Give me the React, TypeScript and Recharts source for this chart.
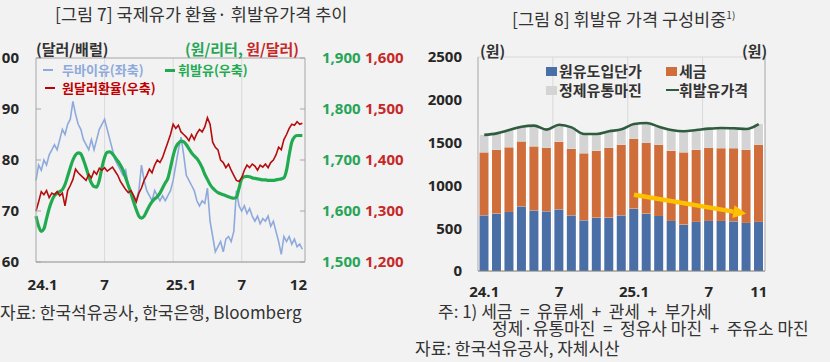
import React from 'react';
import {
  LineChart, Line, XAxis, YAxis, CartesianGrid, Legend, ComposedChart, Bar, ReferenceLine,
} from 'recharts';

const FONT = "'Open Sans', 'Noto Sans CJK KR', sans-serif";
const KFONT = "'Noto Sans CJK KR', 'Open Sans', sans-serif";
const BG = '#f2f2f2';

// ---------- Figure 7: weekly series, Jan 2024 - early Dec 2025 ----------
const dubai = [
  76, 79, 78, 80, 79, 81, 82, 83, 82, 84,
  86, 85, 87, 88, 91.5, 89, 87, 86, 84, 83,
  82, 84, 82, 84, 86, 87, 88, 86, 84, 82,
  80, 79, 78, 77, 78, 75, 74, 73, 72, 74,
  79, 76, 74, 73, 72, 74, 73, 72, 73, 72,
  73, 74, 76, 79, 82, 84.5, 81, 77, 76, 75,
  74, 72, 71, 72, 71.5, 74.5, 68, 65, 62, 63,
  64, 62, 64.5, 65, 64, 66, 74, 71, 70, 71,
  69.5, 70.5, 69, 68, 69, 67.5, 68.5, 68, 69, 67,
  68, 66, 64, 61.5, 65, 64, 65, 63.5, 64.5, 63,
  63.5, 62.5,
];
const usdKrw = [
  1300, 1318, 1338, 1332, 1340, 1326, 1335, 1332, 1338, 1330,
  1335, 1310, 1340, 1350, 1362, 1382, 1375, 1370, 1365, 1360,
  1372, 1365, 1378, 1372, 1384, 1380, 1385, 1378, 1382, 1386,
  1378, 1370, 1358, 1350, 1342, 1336, 1340, 1330, 1318, 1335,
  1345, 1360, 1370, 1382, 1375, 1390, 1400, 1395, 1405, 1420,
  1435, 1450, 1470, 1462, 1468, 1455, 1450, 1445, 1438, 1450,
  1440, 1452, 1460, 1455, 1465, 1483, 1470, 1435, 1425, 1420,
  1400, 1395, 1385, 1392, 1380, 1370, 1360, 1358, 1365, 1380,
  1390, 1385, 1392, 1388, 1380, 1390, 1386, 1392, 1385, 1395,
  1400, 1410, 1425, 1420, 1440, 1450, 1462, 1470, 1468, 1475,
  1470, 1472,
];
const gasolineWeekly = [
  1590, 1570, 1560, 1565, 1585, 1605, 1620, 1630, 1635, 1638,
  1642, 1652, 1668, 1685, 1700, 1710, 1714, 1712, 1700, 1685,
  1668, 1655, 1648, 1647, 1660, 1685, 1705, 1715, 1716, 1712,
  1705, 1698, 1690, 1680, 1665, 1650, 1635, 1618, 1603, 1590,
  1586, 1590, 1600, 1610, 1618, 1624, 1628, 1635, 1645, 1655,
  1664, 1685, 1708, 1725, 1733, 1737, 1736, 1730, 1722, 1714,
  1708, 1703, 1695, 1685, 1672, 1662, 1652, 1645, 1640, 1636,
  1634, 1632, 1630, 1628, 1626, 1625, 1627, 1645, 1663, 1667,
  1668, 1667, 1665, 1664, 1663, 1662, 1661, 1661, 1660, 1660,
  1660, 1661, 1662, 1663, 1665, 1680, 1710, 1735, 1745, 1748,
  1748, 1748,
];
const fig7TickWeeks = [2.5, 26, 55, 78, 99.5];
const fig7TickLabels = ['24.1', '7', '25.1', '7', '12'];
const fig7GridWeeks = [26, 52, 78];
const fig7SeriesNames = ['두바이유(좌축)', '휘발유(우축)', '원달러환율(우축)'];
const dubaiTicks = [60, 70, 80, 90, 100];
const gasTicks = [1500, 1600, 1700, 1800, 1900];
const fxTicks = [1200, 1300, 1400, 1500, 1600];

const fig7Data = dubai.map((v, i) => ({ week: i, dubai: v, fx: usdKrw[i], gas: gasolineWeekly[i] }));

// ---------- Figure 8: monthly, 24.1 - 25.11 ----------
const months = [
  '24.1', '24.2', '24.3', '24.4', '24.5', '24.6', '24.7', '24.8', '24.9', '24.10', '24.11', '24.12',
  '25.1', '25.2', '25.3', '25.4', '25.5', '25.6', '25.7', '25.8', '25.9', '25.10', '25.11',
];
const crudeCost = [651, 671, 690, 756, 709, 698, 721, 651, 593, 624, 624, 651, 729, 671, 643, 585, 543, 574, 585, 585, 581, 562, 574];
const taxes = [736, 744, 756, 759, 748, 740, 791, 776, 783, 783, 814, 822, 814, 825, 830, 822, 844, 845, 853, 850, 854, 857, 899];
const margins = [203, 193, 201, 171, 241, 213, 197, 251, 225, 194, 194, 182, 174, 233, 213, 240, 245, 228, 225, 236, 232, 240, 244];
const gasolinePrice = [1590, 1608, 1647, 1686, 1698, 1651, 1709, 1678, 1601, 1601, 1632, 1655, 1717, 1729, 1686, 1647, 1632, 1647, 1663, 1671, 1667, 1659, 1717];
const fig8TickMonths = ['24.1', '24.7', '25.1', '25.7', '25.11'];
const fig8TickLabels = ['24.1', '7', '25.1', '7', '11'];
const fig8SeriesNames = ['원유도입단가', '세금', '정제유통마진', '휘발유가격'];
const wonTicks = [0, 500, 1000, 1500, 2000, 2500];
const arrowFrom = { x: '25.1', y: 890 };
const arrowTo = { x: '25.10', y: 668 };

const fig8Data = months.map((m, i) => ({
  m, crude: crudeCost[i], tax: taxes[i], margin: margins[i], price: gasolinePrice[i],
}));

// ---------- colors ----------
const C = {
  dubai: '#8eaadc',
  fx: '#b50d0d',
  gas: '#22aa50',
  gasText: '#27a556',
  fxText: '#c62828',
  crude: '#4a6ea6',
  tax: '#cf6e3b',
  margin: '#d4d4d4',
  price: '#2f5c3f',
  arrow: '#ffc000',
  frame: '#a6a6a6',
  grid: '#d9d9d9',
  text: '#262626',
};

const tickStyle = { fontSize: 15, fontWeight: 700, fill: C.text, fontFamily: FONT };

const Txt = ({ x, y, size = 17, color = '#333', weight = 400, children }: any) => (
  <div style={{
    position: 'absolute', left: x, top: y - size / 2, fontSize: size, lineHeight: `${size}px`,
    color, fontWeight: weight, whiteSpace: 'pre', fontFamily: KFONT,
  }}>{children}</div>
);

const Fig7Legend = () => {
  const item = (x: number, y: number, color: string, thick: number, label: string, tx: number) => (
    <React.Fragment key={label}>
      <div style={{ position: 'absolute', left: x, top: y - thick / 2, width: 10, height: thick, background: color }} />
      <div style={{
        position: 'absolute', left: tx, top: y - 8, lineHeight: '16px', fontSize: 13, fontWeight: 700,
        color, whiteSpace: 'pre', fontFamily: KFONT,
      }}>{label}</div>
    </React.Fragment>
  );
  return (
    <div style={{ position: 'relative', width: 414, height: 300 }}>
      {item(43, 70, C.dubai, 2, fig7SeriesNames[0], 62)}
      {item(165, 70, C.gas, 3, fig7SeriesNames[1], 178)}
      {item(45, 88, '#c00000', 2, fig7SeriesNames[2], 62)}
    </div>
  );
};

const Fig8Legend = () => {
  const box = (x: number, y: number, color: string, label: string, line = false) => (
    <React.Fragment key={label}>
      <div style={{
        position: 'absolute', left: x, top: line ? y - 1 : y - 4.5, width: line ? 13 : 11,
        height: line ? 2 : 9, background: color,
      }} />
      <div style={{
        position: 'absolute', left: x + 13, top: y - 9, lineHeight: '18px', fontSize: 15, fontWeight: 700,
        color: '#333', whiteSpace: 'pre', fontFamily: KFONT,
      }}>{label}</div>
    </React.Fragment>
  );
  return (
    <div style={{ position: 'relative', width: 400, height: 310 }}>
      {box(131, 71, C.crude, fig8SeriesNames[0])}
      {box(251, 71, C.tax, fig8SeriesNames[1])}
      {box(131, 90, C.margin, fig8SeriesNames[2])}
      {box(251, 90, C.price, fig8SeriesNames[3], true)}
    </div>
  );
};

const GapBar = (p: any) => {
  const { x, y, width, height, fill } = p;
  if (!height || height <= 0) return <g />;
  return (
    <g>
      <rect x={x - 1.5} y={y} width={width + 3} height={height} fill="#ffffff" />
      <rect x={x} y={y} width={width} height={height} fill={fill} />
    </g>
  );
};

const Arrow = (p: any) => {
  const { x1, y1, x2, y2 } = p;
  if ([x1, y1, x2, y2].some((v) => typeof v !== 'number' || isNaN(v))) return <g />;
  const ang = Math.atan2(y2 - y1, x2 - x1);
  const L = 13;
  const W = 6.5;
  const bx = x2 - L * Math.cos(ang);
  const by = y2 - L * Math.sin(ang);
  const px = -Math.sin(ang) * W;
  const py = Math.cos(ang) * W;
  return (
    <g>
      <line x1={x1} y1={y1} x2={bx} y2={by} stroke={C.arrow} strokeWidth={4.5} />
      <polygon points={`${x2},${y2} ${bx + px},${by + py} ${bx - px},${by - py}`} fill={C.arrow} />
    </g>
  );
};

const fmtComma = (v: number) => v.toLocaleString('en-US');

export default function App() {
  return (
    <div style={{
      position: 'absolute', left: 0, top: 0, width: 830, height: 362, background: BG,
      overflow: 'hidden', fontFamily: FONT,
    }}>
      {/* Titles */}
      <Txt x={55} y={14} size={17.5} color="#333">[그림 7] 국제유가 환율· 휘발유가격 추이</Txt>
      <Txt x={512} y={15} size={17.5} color="#333">[그림 8] 휘발유 가격 구성비중<sup style={{ fontSize: 10 }}>1)</sup></Txt>

      {/* Figure 7 */}
      <div style={{ position: 'absolute', left: 0, top: 0 }}>
        <LineChart width={414} height={300} data={fig7Data} margin={{ top: 58, right: 0, bottom: 8, left: 0 }}>
          <XAxis
            dataKey="week" type="number" domain={[0, 102]} ticks={fig7TickWeeks}
            tickFormatter={(v: number) => fig7TickLabels[fig7TickWeeks.indexOf(v)] ?? ''}
            height={30} tickLine={false} tickSize={0} tickMargin={17}
            axisLine={{ stroke: '#8c8c8c' }} tick={tickStyle} interval={0}
          />
          <YAxis
            yAxisId="y0" orientation="left" domain={[60, 100]} ticks={dubaiTicks} width={36}
            tickSize={-5} tickMargin={22} tickLine={{ stroke: C.frame }} axisLine={{ stroke: C.frame }}
            tick={tickStyle} interval={0}
          />
          <YAxis
            yAxisId="y1" orientation="right" domain={[1500, 1900]} ticks={gasTicks} width={59}
            tickSize={-5} tickMargin={22} tickLine={{ stroke: C.frame }} axisLine={{ stroke: C.frame }}
            tick={{ ...tickStyle, fill: C.gasText }} tickFormatter={fmtComma} interval={0}
          />
          <YAxis
            yAxisId="y2" orientation="right" domain={[1200, 1600]} ticks={fxTicks} width={50}
            tickSize={0} tickMargin={1} tickLine={false} axisLine={false}
            tick={{ ...tickStyle, fill: C.fxText }} tickFormatter={fmtComma} interval={0}
          />
          {fig7GridWeeks.map((w) => (
            <ReferenceLine key={w} x={w} yAxisId="y0" stroke={C.grid} strokeWidth={1} />
          ))}
          <ReferenceLine y={100} yAxisId="y0" stroke={C.frame} strokeWidth={1} />
          <Line yAxisId="y0" dataKey="dubai" stroke={C.dubai} strokeWidth={1.6} dot={false}
            isAnimationActive={false} type="linear" />
          <Line yAxisId="y1" dataKey="gas" stroke={C.gas} strokeWidth={3.2} dot={false}
            isAnimationActive={false} type="monotone" />
          <Line yAxisId="y2" dataKey="fx" stroke={C.fx} strokeWidth={1.6} dot={false}
            isAnimationActive={false} type="linear" />
          <Legend layout="horizontal" verticalAlign="middle" align="center"
            wrapperStyle={{ left: 0, top: 0, width: 414, height: 300, pointerEvents: 'none' }}
            content={() => <Fig7Legend />} />
        </LineChart>
      </div>

      <Txt x={36} y={48} size={15} weight={700} color="#333">(달러/배럴)</Txt>
      <Txt x={185} y={48} size={15} weight={700} color={C.gasText}>(원/리터, <span style={{ color: C.fxText }}>원/달러)</span></Txt>
      <Txt x={0} y={311} color="#333">자료: 한국석유공사, 한국은행, Bloomberg</Txt>

      {/* Figure 8 */}
      <div style={{ position: 'absolute', left: 415, top: 0 }}>
        <ComposedChart width={400} height={310} data={fig8Data} margin={{ top: 57, right: 0, bottom: 9, left: 0 }}
          barCategoryGap={1.5}>
          <CartesianGrid stroke={C.grid} strokeWidth={1}
            verticalCoordinatesGenerator={({ offset }: any) => [6, 12, 18].map((k) => offset.left + (offset.width * k) / months.length)} />
          <XAxis dataKey="m" ticks={fig8TickMonths} interval={0}
            tickFormatter={(v: string) => fig8TickLabels[fig8TickMonths.indexOf(v)] ?? ''}
            height={30} tickLine={false} tickSize={0} tickMargin={15}
            axisLine={{ stroke: '#7f7f7f' }} tick={tickStyle} />
          <YAxis yAxisId="l" orientation="left" domain={[0, 2500]} ticks={wonTicks} width={63}
            tickSize={0} tickMargin={16} tickLine={false} axisLine={{ stroke: C.frame }} tick={tickStyle} interval={0} />
          <YAxis yAxisId="r" orientation="right" domain={[0, 2500]} ticks={wonTicks} width={50}
            tickSize={0} tickMargin={13} tickLine={false} axisLine={{ stroke: C.frame }} tick={tickStyle} interval={0} />
          <Bar yAxisId="l" dataKey="crude" stackId="s" fill={C.crude} isAnimationActive={false} shape={(p: any) => <GapBar {...p} />} />
          <Bar yAxisId="l" dataKey="tax" stackId="s" fill={C.tax} isAnimationActive={false} shape={(p: any) => <GapBar {...p} />} />
          <Bar yAxisId="l" dataKey="margin" stackId="s" fill={C.margin} isAnimationActive={false} shape={(p: any) => <GapBar {...p} />} />
          <Line yAxisId="l" dataKey="price" stroke={C.price} strokeWidth={2.6} dot={false}
            isAnimationActive={false} type="monotone" />
          <ReferenceLine yAxisId="l" segment={[arrowFrom, arrowTo]} shape={(p: any) => <Arrow {...p} />} />
          <Legend layout="horizontal" verticalAlign="middle" align="center"
            wrapperStyle={{ left: 0, top: 0, width: 400, height: 310, pointerEvents: 'none' }}
            content={() => <Fig8Legend />} />
        </ComposedChart>
      </div>

      <Txt x={480} y={50} size={15} weight={700} color="#333">(원)</Txt>
      <Txt x={742} y={50} size={15} weight={700} color="#333">(원)</Txt>
      <Txt x={438} y={310} color="#333">주: 1) 세금  =  유류세  +  관세  +  부가세</Txt>
      <Txt x={492} y={327} color="#333">정제·유통마진  =  정유사 마진  +  주유소 마진</Txt>
      <Txt x={415} y={347} color="#333">자료: 한국석유공사, 자체시산</Txt>
    </div>
  );
}
